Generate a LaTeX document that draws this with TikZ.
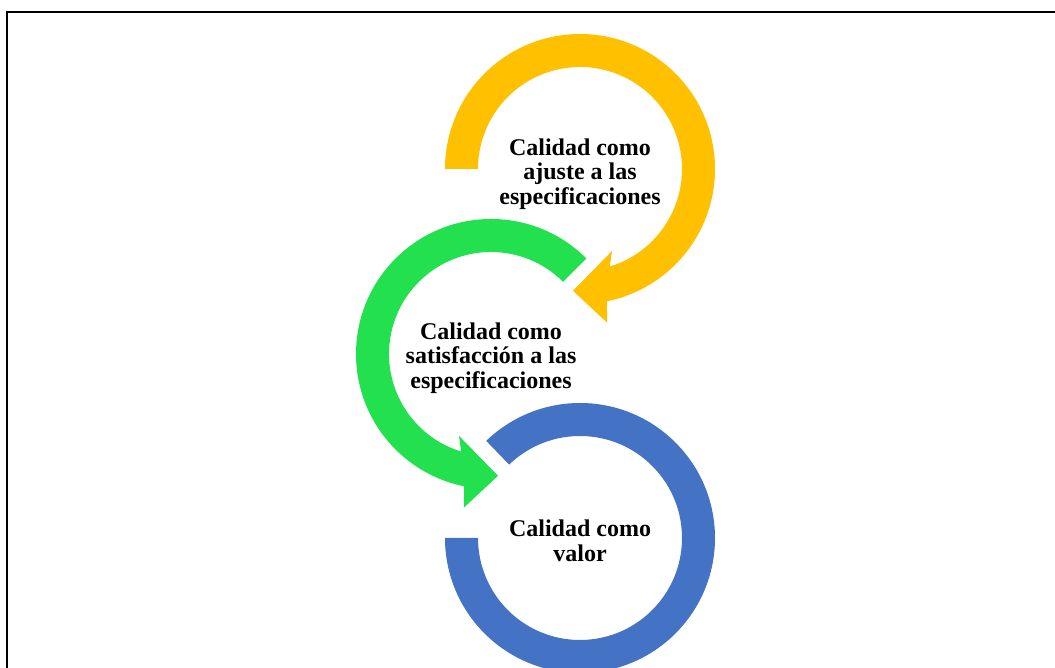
\documentclass[tikz,border=0pt]{standalone}
\usepackage{fontspec}
\setmainfont{Liberation Serif}
\definecolor{ringyellow}{RGB}{255,192,0}
\definecolor{ringgreen}{RGB}{35,225,78}
\definecolor{ringblue}{RGB}{68,114,196}
\tikzset{
  ringtext/.style={align=center, font=\bfseries\fontsize{24}{24.5}\selectfont, inner sep=0pt},
}
\begin{document}
\begin{tikzpicture}[x=1pt,y=1pt]
\useasboundingbox (0,0) rectangle (1055,668);
\begin{scope}
\clip (0,0) rectangle (1055,668);
% yellow circular arrow (clockwise)
\fill[ringyellow, shift={(580,499)}]
  (180:135) arc[start angle=180, end angle=-78.5, radius=135pt]
  -- (-80:156) -- (-93.3:122) -- (-68.7:88) -- (-73:102)
  arc[start angle=-73, end angle=180, radius=102pt] -- cycle;
% green circular arrow (counterclockwise)
\fill[ringgreen, shift={(491,314)}]
  (45:135) arc[start angle=45, end angle=258.5, radius=135pt]
  -- (260:156) -- (273.3:122) -- (248.7:88) -- (253:102)
  arc[start angle=253, end angle=45, radius=102pt] -- cycle;
% blue ring
\fill[ringblue, shift={(580,130)}]
  (180:135) arc[start angle=180, end angle=494, radius=135pt]
  -- (494:102) arc[start angle=494, end angle=180, radius=102pt] -- cycle;
% frame
\draw[line width=2pt] (7,-5) -- (7,656) -- (1060,656);
\end{scope}
\node[ringtext] (t1) at (580,494) {Calidad como\\ajuste a las\\especificaciones};
\node[ringtext] (t2) at (491,310) {Calidad como\\satisfacción a las\\especificaciones};
\node[ringtext] (t3) at (580,127) {Calidad como\\valor};
\end{tikzpicture}
\end{document}
